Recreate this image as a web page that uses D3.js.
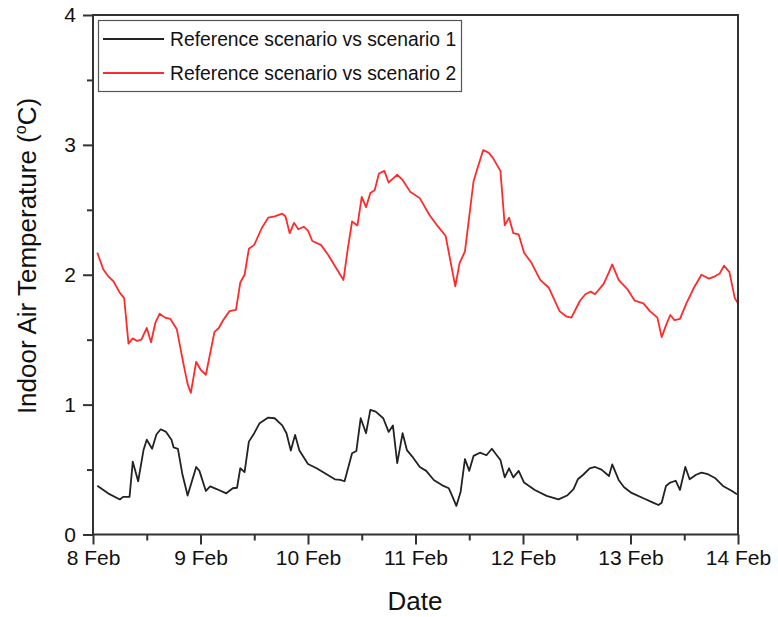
<!DOCTYPE html>
<html>
<head>
<meta charset="utf-8">
<script src="https://cdn.jsdelivr.net/npm/d3@7"></script>
<style>
  html, body { margin: 0; padding: 0; background: #fff; }
  svg { display: block; font-family: "Liberation Sans", Arial, sans-serif; }
</style>
</head>
<body>
<svg id="chart" width="778" height="617"></svg>
<script>
// ---- data (days after 8 Feb 00:00) ----
const seriesNames = ["Reference scenario vs scenario 1", "Reference scenario vs scenario 2"];
const seriesColors = ["#222222", "#ff2a2a"];

const days1 = [0.04,0.14,0.25,0.28,0.34,0.37,0.42,0.47,0.50,0.55,0.59,0.63,0.68,0.73,0.75,0.79,0.83,0.88,0.92,0.96,0.99,
  1.05,1.09,1.15,1.24,1.30,1.34,1.37,1.41,1.45,1.50,1.55,1.63,1.69,1.76,1.80,1.84,1.88,1.92,
  2.00,2.08,2.25,2.30,2.34,2.41,2.45,2.49,2.54,2.58,2.63,2.70,2.75,2.79,2.83,2.88,2.92,2.97,
  3.04,3.10,3.17,3.26,3.31,3.34,3.38,3.42,3.46,3.50,3.54,3.60,3.66,3.71,3.79,3.83,3.87,3.91,3.96,
  4.01,4.11,4.22,4.33,4.41,4.47,4.51,4.56,4.62,4.67,4.73,4.80,4.83,4.89,4.94,
  5.01,5.12,5.21,5.26,5.29,5.33,5.37,5.42,5.46,5.51,5.55,5.61,5.66,5.72,5.79,5.86,5.94,5.99];
const values1 = [0.376,0.317,0.27,0.29,0.29,0.56,0.41,0.65,0.73,0.66,0.77,0.81,0.79,0.73,0.67,0.66,0.47,0.30,0.41,0.52,0.49,
  0.335,0.37,0.35,0.317,0.356,0.36,0.51,0.48,0.715,0.78,0.857,0.90,0.895,0.84,0.78,0.646,0.767,0.646,
  0.543,0.51,0.425,0.42,0.41,0.625,0.643,0.895,0.78,0.96,0.946,0.895,0.79,0.84,0.55,0.78,0.65,0.60,
  0.52,0.49,0.42,0.374,0.356,0.30,0.22,0.33,0.58,0.49,0.605,0.63,0.61,0.66,0.574,0.44,0.51,0.44,0.49,
  0.40,0.343,0.297,0.27,0.30,0.35,0.425,0.46,0.51,0.52,0.50,0.45,0.54,0.42,0.364,
  0.32,0.279,0.245,0.227,0.245,0.374,0.40,0.414,0.343,0.52,0.425,0.46,0.476,0.464,0.433,0.374,0.337,0.31];

const days2 = [0.04,0.096,0.14,0.19,0.25,0.29,0.33,0.37,0.41,0.45,0.50,0.54,0.58,0.62,0.67,0.72,0.78,0.84,0.88,0.91,0.96,
  1.00,1.05,1.13,1.17,1.21,1.27,1.33,1.37,1.41,1.45,1.50,1.57,1.63,1.69,1.76,1.79,1.83,1.87,1.91,1.96,
  2.00,2.04,2.12,2.19,2.27,2.33,2.37,2.41,2.46,2.50,2.54,2.58,2.62,2.66,2.71,2.75,2.79,2.83,2.88,2.95,
  3.04,3.13,3.21,3.28,3.37,3.41,3.46,3.50,3.54,3.58,3.63,3.68,3.72,3.79,3.83,3.87,3.91,3.96,
  4.01,4.08,4.16,4.24,4.34,4.40,4.45,4.53,4.58,4.63,4.67,4.75,4.80,4.83,4.89,4.97,
  5.04,5.12,5.18,5.25,5.29,5.33,5.37,5.41,5.46,5.52,5.59,5.66,5.73,5.79,5.83,5.87,5.92,5.97,6.00];
const values2 = [2.17,2.04,1.99,1.95,1.86,1.82,1.47,1.51,1.49,1.50,1.59,1.48,1.63,1.70,1.67,1.66,1.58,1.32,1.16,1.09,1.33,
  1.27,1.23,1.56,1.59,1.65,1.72,1.73,1.94,2.00,2.20,2.23,2.36,2.44,2.45,2.47,2.45,2.32,2.40,2.35,2.37,
  2.34,2.26,2.23,2.15,2.04,1.96,2.20,2.41,2.38,2.60,2.52,2.63,2.65,2.78,2.80,2.71,2.74,2.77,2.73,2.64,
  2.59,2.46,2.37,2.30,1.91,2.09,2.18,2.45,2.72,2.83,2.96,2.94,2.90,2.80,2.38,2.44,2.32,2.31,
  2.17,2.09,1.96,1.90,1.72,1.68,1.67,1.80,1.85,1.87,1.85,1.93,2.02,2.08,1.96,1.89,
  1.80,1.78,1.72,1.67,1.52,1.61,1.69,1.65,1.66,1.78,1.90,2.00,1.97,1.99,2.01,2.07,2.02,1.82,1.78];

const startDate = new Date(2021, 1, 8);
const endDate = new Date(2021, 1, 14);
const yMajorTicks = [0, 1, 2, 3, 4];
const yMinorTicks = [0.5, 1.5, 2.5, 3.5];
const xTitle = "Date";

// ---- layout ----
const svg = d3.select("#chart");
const L = 93, T = 15, R = 738, B = 534.5;
const axisColor = "#333";

const toDate = d => new Date(startDate.getTime() + d * 864e5);
const x = d3.scaleTime().domain([startDate, endDate]).range([L, R]);
const y = d3.scaleLinear().domain([0, 4]).range([B, T]);

// series lines
const line = d3.line().x(d => x(d[0])).y(d => y(d[1]));
const series = [
  days1.map((d, i) => [toDate(d), values1[i]]),
  days2.map((d, i) => [toDate(d), values2[i]])
];
series.forEach((s, i) => {
  svg.append("path").datum(s)
    .attr("d", line)
    .attr("fill", "none")
    .attr("stroke", seriesColors[i])
    .attr("stroke-width", 1.8)
    .attr("stroke-linejoin", "round");
});

// frame
svg.append("rect").attr("x", L).attr("y", T).attr("width", R - L).attr("height", B - T)
  .attr("fill", "none").attr("stroke", axisColor).attr("stroke-width", 2);

// x axis
const xMajor = d3.timeDay.range(startDate, d3.timeDay.offset(endDate, 1));
const xMinor = d3.timeHour.every(12).range(startDate, endDate).filter(d => d.getHours() === 12);
const xAxis = svg.append("g").attr("transform", `translate(0,${B})`)
  .call(d3.axisBottom(x).tickValues(xMajor).tickFormat(d3.timeFormat("%-d %b")).tickSize(10).tickPadding(6));
xAxis.select(".domain").remove();
xAxis.selectAll(".tick line").attr("stroke", axisColor).attr("stroke-width", 2);
xAxis.selectAll(".tick text").attr("font-size", 21).attr("fill", "#111")
  .attr("font-family", "'Liberation Sans', Arial, sans-serif");
const xAxisMinor = svg.append("g").attr("transform", `translate(0,${B})`)
  .call(d3.axisBottom(x).tickValues(xMinor).tickFormat("").tickSize(6));
xAxisMinor.select(".domain").remove();
xAxisMinor.selectAll(".tick line").attr("stroke", axisColor).attr("stroke-width", 2);

// y axis
const yAxis = svg.append("g").attr("transform", `translate(${L},0)`)
  .call(d3.axisLeft(y).tickValues(yMajorTicks).tickFormat(d3.format("d")).tickSize(10).tickPadding(7));
yAxis.select(".domain").remove();
yAxis.selectAll(".tick line").attr("stroke", axisColor).attr("stroke-width", 2);
yAxis.selectAll(".tick text").attr("font-size", 21).attr("fill", "#111")
  .attr("font-family", "'Liberation Sans', Arial, sans-serif");
const yAxisMinor = svg.append("g").attr("transform", `translate(${L},0)`)
  .call(d3.axisLeft(y).tickValues(yMinorTicks).tickFormat("").tickSize(6));
yAxisMinor.select(".domain").remove();
yAxisMinor.selectAll(".tick line").attr("stroke", axisColor).attr("stroke-width", 2);

// titles
svg.append("text").attr("x", 415).attr("y", 610).attr("text-anchor", "middle")
  .attr("font-size", 26).attr("fill", "#111").text(xTitle);

const yt = svg.append("text").attr("transform", "translate(36,256) rotate(-90)")
  .attr("text-anchor", "middle").attr("font-size", 26).attr("fill", "#111");
yt.append("tspan").text("Indoor Air Temperature (");
yt.append("tspan").attr("font-size", 16).attr("dy", -10).text("o");
yt.append("tspan").attr("dy", 10).text("C)");

// legend
const lg = svg.append("g");
lg.append("rect").attr("x", 98.5).attr("y", 20.5).attr("width", 363).attr("height", 71)
  .attr("fill", "#fff").attr("stroke", "#555").attr("stroke-width", 1.2);
const legendYs = [39, 73];
seriesNames.forEach((n, i) => {
  lg.append("line").attr("x1", 103).attr("x2", 164).attr("y1", legendYs[i]).attr("y2", legendYs[i])
    .attr("stroke", seriesColors[i]).attr("stroke-width", 1.8);
  lg.append("text").attr("x", 170).attr("y", legendYs[i] + 7).attr("font-size", 19.3)
    .attr("fill", "#111").text(n);
});
</script>
</body>
</html>
